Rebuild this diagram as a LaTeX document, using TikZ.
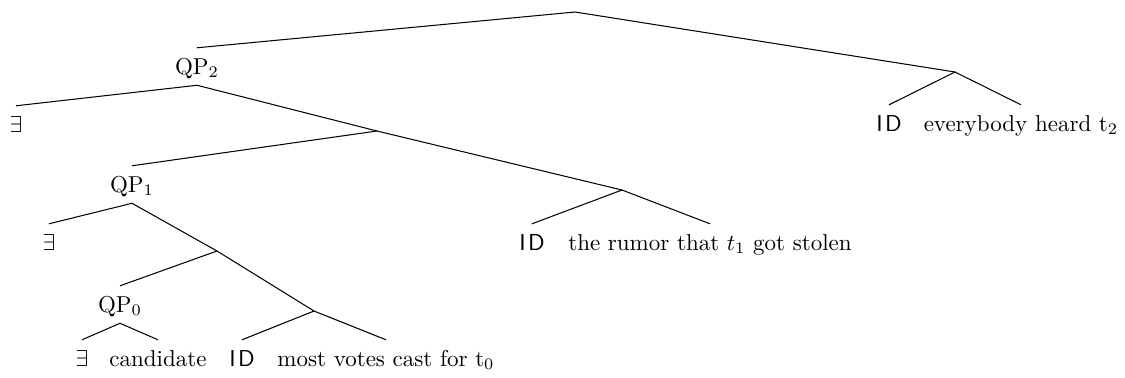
\documentclass[tikz,border=0pt]{standalone}
\begin{document}
\begin{tikzpicture}[x=0.4348pt,y=-0.4348pt,
  lf/.style={inner xsep=0pt,inner ysep=4.7pt,text height=6.5pt,text depth=0pt,anchor=base},
  br/.style={line width=0.45pt}]
\useasboundingbox (0,0) rectangle (1125,377);
% internal points
\coordinate (root) at (575,12);
\coordinate (R) at (955,72);
\coordinate (X1) at (377,131);
\coordinate (X2) at (622,190);
\coordinate (Y1) at (217,251);
\coordinate (Y2) at (314,311);
% labelled nodes
\node[lf] (qp2) at (197,74) {QP$_2$};
\node[lf] (e1) at (16,132) {$\exists$};
\node[lf] (qp1) at (132,192) {QP$_1$};
\node[lf] (e2) at (49,250) {$\exists$};
\node[lf] (qp0) at (120,312) {QP$_0$};
\node[lf] (e3) at (82,366) {$\exists$};
\node[lf] (cand) at (158,366) {candidate};
\node[lf] (id3) at (242,366) {\textsf{I\kern1pt D}};
\node[lf] (most) at (386,366) {most votes cast for t$_0$};
\node[lf] (id2) at (532,250) {\textsf{I\kern1pt D}};
\node[lf] (rumor) at (710,250) {the rumor that $t_1$ got stolen};
\node[lf] (id1) at (889,131) {\textsf{I\kern1pt D}};
\node[lf] (every) at (1021,131) {everybody heard t$_2$};
% branches
\draw[br] (qp2.north) -- (root) -- (R);
\draw[br] (e1.north) -- (qp2.south) -- (X1);
\draw[br] (qp1.north) -- (X1) -- (X2);
\draw[br] (id2.north) -- (X2) -- (rumor.north);
\draw[br] (e2.north) -- (qp1.south) -- (Y1);
\draw[br] (qp0.north) -- (Y1) -- (Y2);
\draw[br] (e3.north) -- (qp0.south) -- (cand.north);
\draw[br] (id3.north) -- (Y2) -- (most.north);
\draw[br] (id1.north) -- (R) -- (every.north);
\end{tikzpicture}
\end{document}
